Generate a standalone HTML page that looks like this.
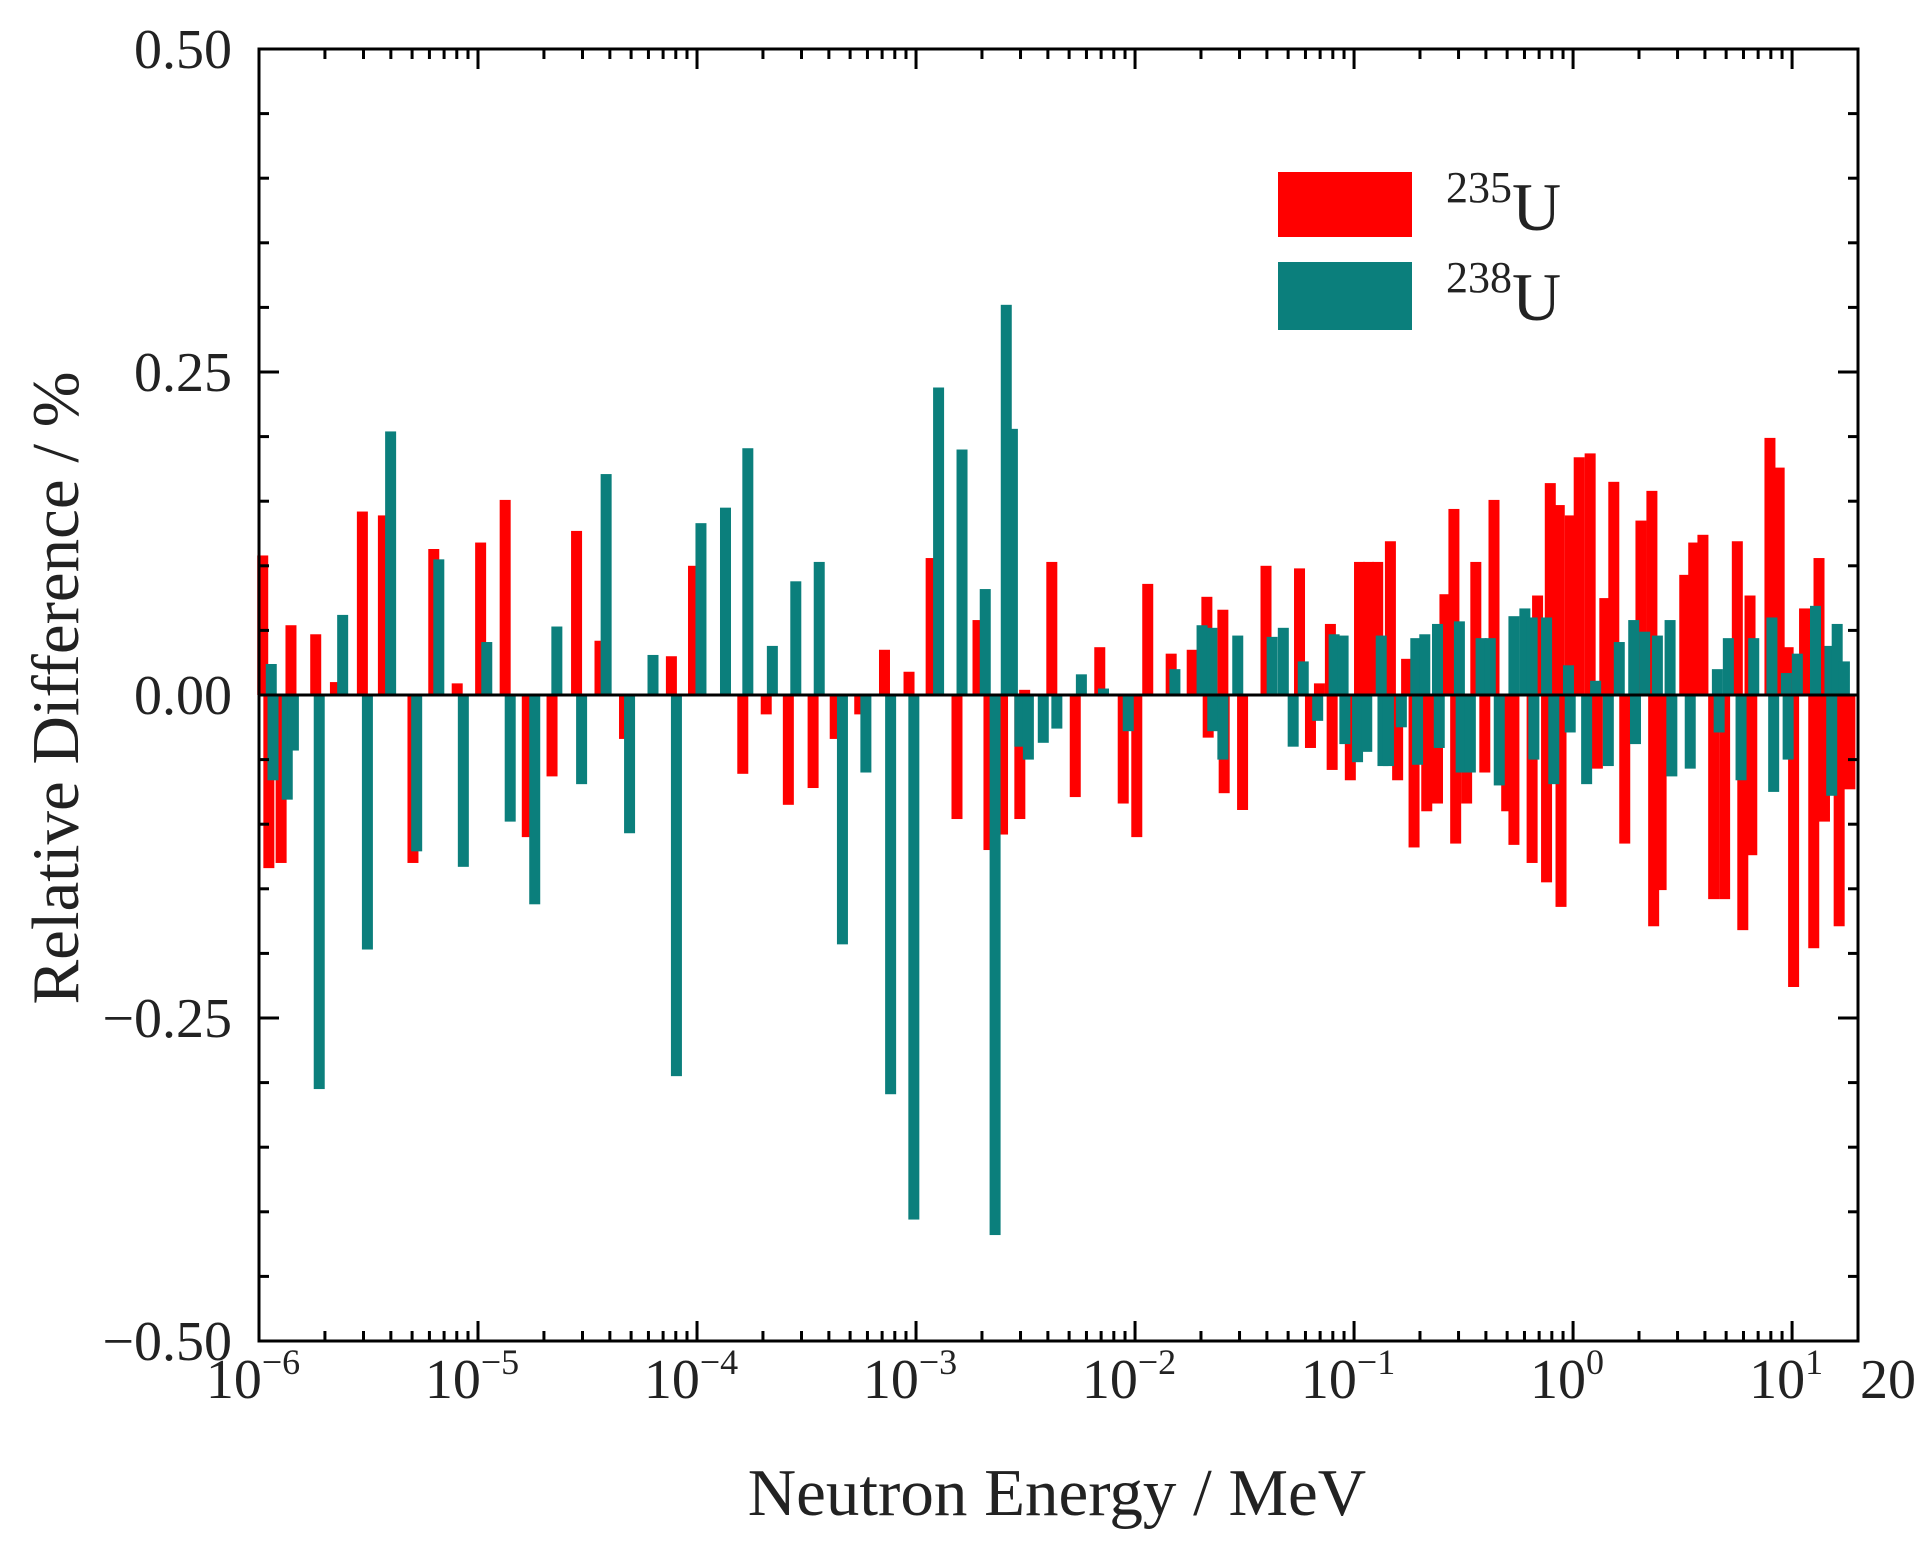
<!DOCTYPE html>
<html><head><meta charset="utf-8"><style>
html,body{margin:0;padding:0;background:#fff;}
svg{display:block;font-family:"Liberation Serif",serif;}
</style></head><body>
<svg id="chart" width="1932" height="1554" viewBox="0 0 1932 1554" xmlns="http://www.w3.org/2000/svg">
<g id="bars"></g>
<g id="axes"></g>
<g>
<rect x="1278" y="172" width="134" height="65" fill="#ff0000"/>
<rect x="1278" y="262" width="134" height="68" fill="#0b7f7c"/>
<text x="1446" y="230" font-size="68" fill="#222"><tspan font-size="44" dy="-28">235</tspan><tspan dy="28">U</tspan></text>
<text x="1446" y="320" font-size="68" fill="#222"><tspan font-size="44" dy="-28">238</tspan><tspan dy="28">U</tspan></text>
</g>
<text x="1057" y="1515" font-size="67" text-anchor="middle" fill="#222">Neutron Energy / MeV</text>
<text x="0" y="0" font-size="67" text-anchor="middle" fill="#222" transform="translate(78,688) rotate(-90)">Relative Difference / %</text>
</svg>
<script>
// log10(E/MeV) and relative difference (%) for 235U
const u235Log = [-5.983,-5.955,-5.899,-5.854,-5.741,-5.651,-5.528,-5.432,-5.297,-5.202,-5.095,-4.988,-4.876,-4.775,-4.662,-4.550,-4.443,-4.331,-4.117,-4.016,-3.791,-3.684,-3.583,-3.470,-3.369,-3.257,-3.144,-3.032,-2.931,-2.813,-2.717,-2.667,-2.605,-2.526,-2.504,-2.380,-2.273,-2.161,-2.054,-1.992,-1.942,-1.835,-1.739,-1.672,-1.666,-1.599,-1.593,-1.509,-1.402,
-1.249,-1.199,-1.158,-1.108,-1.100,-1.017,-0.975,-0.934,-0.892,-0.834,-0.801,-0.760,-0.726,-0.668,-0.619,-0.585,-0.544,-0.536,-0.486,-0.444,-0.403,-0.361,-0.303,-0.270,-0.187,-0.162,-0.121,-0.104,-0.063,-0.055,-0.013,0.028,0.078,0.111,0.145,0.186,0.236,0.310,0.360,0.368,0.402,0.510,0.551,0.593,0.642,0.692,0.750,0.775,0.808,0.816,0.899,0.941,0.982,1.007,1.057,1.099,1.123,1.148,1.215,1.264];
const u235Val = [0.108,-0.134,-0.130,0.054,0.047,0.010,0.142,0.139,-0.130,0.113,0.009,0.118,0.151,-0.110,-0.063,0.127,0.042,-0.034,0.030,0.100,-0.061,-0.015,-0.085,-0.072,-0.034,-0.015,0.035,0.018,0.106,-0.096,0.058,-0.120,-0.108,-0.096,0.004,0.103,-0.079,0.037,-0.084,-0.110,0.086,0.032,0.035,0.076,-0.033,0.066,-0.076,-0.089,0.100,
0.098,-0.041,0.009,0.055,-0.058,-0.066,0.103,0.103,0.103,0.119,-0.066,0.028,-0.118,-0.090,-0.084,0.078,0.144,-0.115,-0.084,0.103,-0.060,0.151,-0.090,-0.116,-0.130,0.077,-0.145,0.164,0.147,-0.164,0.139,0.184,0.187,-0.057,0.075,0.165,-0.115,0.135,0.158,-0.179,-0.151,0.093,0.118,0.124,-0.158,-0.158,0.119,-0.182,0.077,-0.124,0.199,0.176,0.037,-0.226,0.067,-0.196,0.106,-0.098,-0.179,-0.073];
// 238U
const u238Log = [-5.944,-5.936,-5.871,-5.843,-5.725,-5.618,-5.505,-5.399,-5.280,-5.179,-5.067,-4.960,-4.853,-4.741,-4.640,-4.527,-4.415,-4.308,-4.201,-4.094,-3.982,-3.870,-3.768,-3.656,-3.549,-3.442,-3.336,-3.229,-3.116,-3.010,-2.897,-2.790,-2.684,-2.639,-2.588,-2.560,-2.526,-2.487,-2.419,-2.357,-2.245,-2.144,-2.031,-1.818,-1.694,-1.649,-1.645,-1.599,-1.531,-1.374,-1.323,-1.278,
-1.232,-1.166,-1.091,-1.050,-1.042,-0.984,-0.942,-0.876,-0.868,-0.843,-0.784,-0.718,-0.710,-0.677,-0.619,-0.611,-0.519,-0.511,-0.469,-0.420,-0.378,-0.337,-0.270,-0.220,-0.187,-0.179,-0.121,-0.088,-0.021,-0.013,0.062,0.103,0.161,0.211,0.277,0.285,0.327,0.385,0.443,0.451,0.535,0.659,0.667,0.709,0.767,0.825,0.908,0.916,0.974,0.982,1.024,1.107,1.173,1.181,1.206,1.239];
const u238Val = [0.024,-0.066,-0.081,-0.043,-0.305,0.062,-0.197,0.204,-0.121,0.105,-0.133,0.041,-0.098,-0.162,0.053,-0.069,0.171,-0.107,0.031,-0.295,0.133,0.145,0.191,0.038,0.088,0.103,-0.193,-0.060,-0.309,-0.406,0.238,0.190,0.082,-0.418,0.302,0.206,-0.040,-0.050,-0.037,-0.026,0.016,0.005,-0.028,0.020,0.054,0.052,-0.028,-0.050,0.046,0.045,0.052,-0.040,
0.026,-0.020,0.047,0.046,-0.038,-0.052,-0.044,0.046,-0.055,-0.055,-0.025,0.044,-0.054,0.047,0.055,-0.041,0.057,-0.060,-0.060,0.044,0.044,-0.070,0.061,0.067,0.060,-0.050,0.060,-0.069,0.023,-0.029,-0.069,0.011,-0.055,0.041,0.058,-0.038,0.049,0.046,0.058,-0.063,-0.057,0.020,-0.029,0.044,-0.066,0.044,0.060,-0.075,0.017,-0.050,0.032,0.069,0.038,-0.078,0.055,0.026];
const yTicks = [0.50,0.25,0.00,-0.25,-0.50];
const yTickLabels = ["0.50","0.25","0.00","\u22120.25","\u22120.50"];
const xDecades = [-6,-5,-4,-3,-2,-1,0,1];
const xTickLabels = ["\u22126","\u22125","\u22124","\u22123","\u22122","\u22121","0","1"];

const L=259,R=1858,T=49,B=1341;
const xMin=-6,xMax=Math.log10(20),yMin=-0.5,yMax=0.5;
function xs(l){return L+(l-xMin)/(xMax-xMin)*(R-L);}
function ys(v){return B-(v-yMin)/(yMax-yMin)*(B-T);}
const NS="http://www.w3.org/2000/svg";
function mk(tag,attrs,parent){const e=document.createElementNS(NS,tag);for(const k in attrs)e.setAttribute(k,attrs[k]);parent.appendChild(e);return e;}
const bars=document.getElementById('bars'), axes=document.getElementById('axes');
const BW=11;
function drawSeries(logs,vals,color,name){
  for(let i=0;i<logs.length;i++){
    const x=xs(logs[i]),y0=ys(0),y1=ys(vals[i]);
    const r=mk('rect',{x:x-BW/2,y:Math.min(y0,y1),width:BW,height:Math.abs(y1-y0),fill:color},bars);
    
    
  }
}
drawSeries(u235Log,u235Val,'#ff0000','u235');
drawSeries(u238Log,u238Val,'#0b7f7c','u238');
const z=mk('line',{x1:L,x2:R,y1:ys(0),y2:ys(0),stroke:'#000','stroke-width':3},axes);


const f=mk('rect',{x:L,y:T,width:R-L,height:B-T,fill:'none',stroke:'#000','stroke-width':3},axes);


for(let v=-0.5;v<=0.5001;v+=0.05){
  const major=Math.abs(Math.round(v*100)%25)===0;
  const len=major?20:10,y=ys(v);
  mk('line',{x1:L,x2:L+len,y1:y,y2:y,stroke:'#000','stroke-width':3},axes);
  mk('line',{x1:R,x2:R-len,y1:y,y2:y,stroke:'#000','stroke-width':3},axes);
}
yTicks.forEach((v,i)=>{
  const t=mk('text',{x:232,y:ys(v)+19,'font-size':56,'text-anchor':'end',fill:'#222'},axes);
  t.textContent=yTickLabels[i];
  
  
});
xDecades.forEach((d,i)=>{
  for(let m=1;m<=9;m++){
    const l=d+Math.log10(m); if(l>xMax)break;
    const len=m===1?20:10,x=xs(l);
    mk('line',{x1:x,x2:x,y1:B,y2:B-len,stroke:'#000','stroke-width':3},axes);
    mk('line',{x1:x,x2:x,y1:T,y2:T+len,stroke:'#000','stroke-width':3},axes);
  }
  const t=mk('text',{x:xs(d)-6,y:1398,'font-size':56,'text-anchor':'middle',fill:'#222'},axes);
  
  
  const a=document.createElementNS(NS,'tspan');a.textContent='10';t.appendChild(a);
  const b=document.createElementNS(NS,'tspan');b.setAttribute('font-size','36');b.setAttribute('dy','-24');b.textContent=xTickLabels[i];t.appendChild(b);
});
const t20=mk('text',{x:1888,y:1398,'font-size':56,'text-anchor':'middle',fill:'#222'},axes);
t20.textContent='20';


</script>
</body></html>
